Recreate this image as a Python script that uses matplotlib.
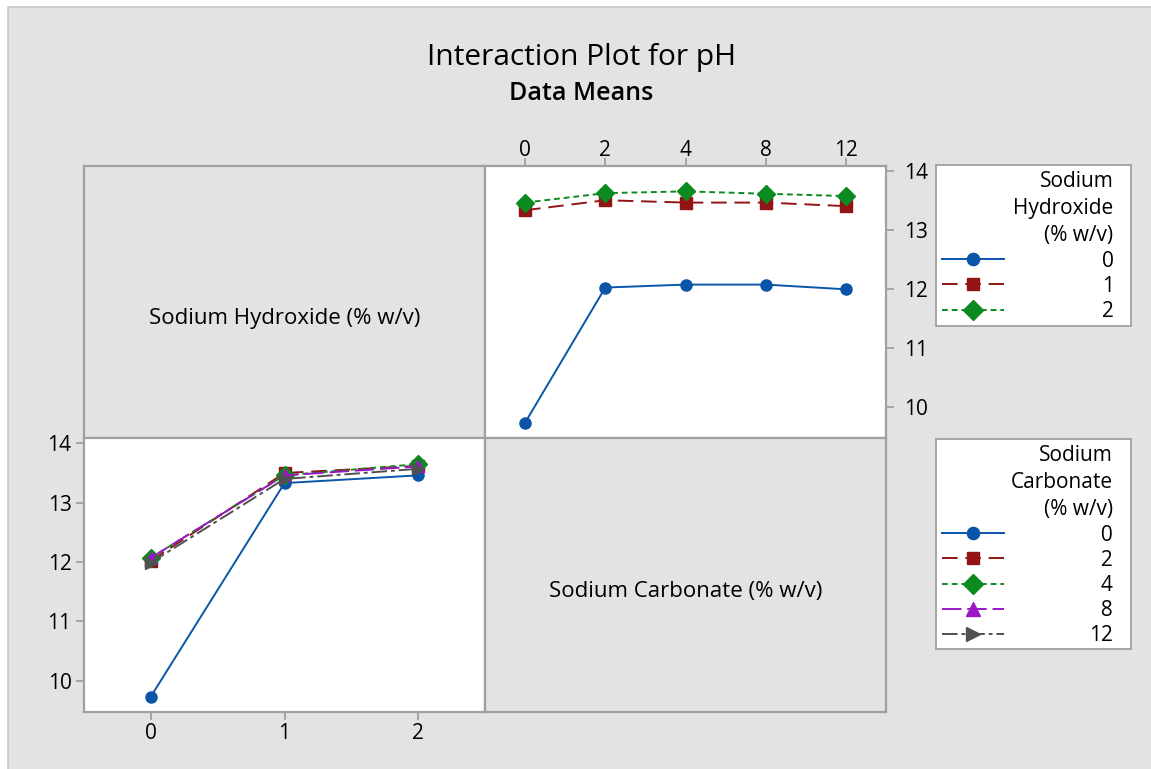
import matplotlib
matplotlib.use("Agg")
import matplotlib.pyplot as plt
from matplotlib.patches import Rectangle
import numpy as np

plt.rcParams['font.family'] = ['Open Sans', 'DejaVu Sans']

# ---- data (cell means of pH) ----
naoh_levels = ["0", "1", "2"]              # Sodium Hydroxide (% w/v)
na2co3_levels = ["0", "2", "4", "8", "12"]  # Sodium Carbonate (% w/v)
# rows: NaOH level, columns: Na2CO3 level
ph_naoh0 = [9.73, 12.02, 12.07, 12.07, 11.99]
ph_naoh1 = [13.33, 13.50, 13.46, 13.46, 13.40]
ph_naoh2 = [13.46, 13.62, 13.65, 13.61, 13.57]
y_ticks = [10, 11, 12, 13, 14]

means = np.array([ph_naoh0, ph_naoh1, ph_naoh2])

W, H = 1151, 769
fig = plt.figure(figsize=(W / 100, H / 100), dpi=100, facecolor='white')
BG = '#e3e3e3'
fig.patches.append(Rectangle((8 / W, -0.5), 1.5, 1.5 - 7 / H, transform=fig.transFigure,
                             facecolor=BG, edgecolor='#c8c8c8', lw=1.2, zorder=-10))

def fx(px):
    return px / W

def fy(py):
    return 1 - py / H

L, M, R = 84, 485, 886
T, MID, B = 166, 438, 712

def make_ax(x0, y0, x1, y1, face):
    ax = fig.add_axes([fx(x0), fy(y1), fx(x1) - fx(x0), fy(y0) - fy(y1)])
    ax.set_facecolor(face)
    for s in ax.spines.values():
        s.set_color('#a0a0a0')
        s.set_linewidth(1.6)
    return ax

ax_tl = make_ax(L, T, M, MID, BG)
ax_tr = make_ax(M, T, R, MID, 'white')
ax_bl = make_ax(L, MID, M, B, 'white')
ax_br = make_ax(M, MID, R, B, BG)

for ax in (ax_tl, ax_br):
    ax.set_xticks([])
    ax.set_yticks([])

LABFS = 16
ax_tl.text(0.5, 0.44, "Sodium Hydroxide (% w/v)", transform=ax_tl.transAxes,
           ha='center', va='center', fontsize=LABFS)
ax_br.text(0.5, 0.44, "Sodium Carbonate (% w/v)", transform=ax_br.transAxes,
           ha='center', va='center', fontsize=LABFS)

naoh_styles = [
    dict(color='#0a55a8', ls='-', marker='o', ms=8),
    dict(color='#921414', ls=(0, (8, 4)), marker='s', ms=8),
    dict(color='#0b8a1f', ls=(0, (3, 2)), marker='D', ms=9),
]
na2co3_styles = [
    dict(color='#0a55a8', ls='-', marker='o', ms=8),
    dict(color='#921414', ls=(0, (8, 4)), marker='s', ms=8),
    dict(color='#0b8a1f', ls=(0, (3, 2)), marker='D', ms=9),
    dict(color='#9b17c5', ls=(0, (10, 3)), marker='^', ms=9),
    dict(color='#505050', ls=(0, (8, 2, 2, 2)), marker='>', ms=9),
]

TICKFS = 15
# top-right: x = Na2CO3, series = NaOH
xc = np.arange(len(na2co3_levels))
h1 = []
for i, lev in enumerate(naoh_levels):
    ln, = ax_tr.plot(xc, means[i], lw=1.4, label=lev, **naoh_styles[i])
    h1.append(ln)
ax_tr.set_xlim(-0.5, len(na2co3_levels) - 0.5)
ax_tr.set_ylim(9.47, 14.08)
ax_tr.set_xticks(xc, na2co3_levels)
ax_tr.set_yticks(y_ticks)
ax_tr.xaxis.tick_top()
ax_tr.yaxis.tick_right()
ax_tr.tick_params(axis='both', colors='#a0a0a0', labelcolor='black',
                  labelsize=TICKFS, length=6, width=1.3)
ax_tr.tick_params(axis='x', pad=-2.5)
ax_tr.tick_params(axis='y', pad=7)

# bottom-left: x = NaOH, series = Na2CO3
xn = np.arange(len(naoh_levels))
h2 = []
for j, lev in enumerate(na2co3_levels):
    ln, = ax_bl.plot(xn, means[:, j], lw=1.4, label=lev, **na2co3_styles[j])
    h2.append(ln)
ax_bl.set_xlim(-0.5, len(naoh_levels) - 0.5)
ax_bl.set_ylim(9.47, 14.09)
ax_bl.set_xticks(xn, naoh_levels)
ax_bl.set_yticks(y_ticks)
ax_bl.tick_params(axis='both', colors='#a0a0a0', labelcolor='black',
                  labelsize=TICKFS, length=6, width=1.3)
ax_bl.tick_params(axis='x', pad=2)
ax_bl.tick_params(axis='y', pad=3)

# titles
fig.text(0.5 + 0.005, fy(58), "Interaction Plot for pH", ha='center', va='center',
         fontsize=21.5)
fig.text(0.5 + 0.005, fy(93), "Data Means", ha='center', va='center',
         fontsize=18, fontweight='semibold')

FS = 15
def legend(handles, labels, title, y0, y1, pad):
    fig.patches.append(Rectangle((fx(936), fy(y1)), fx(1131) - fx(936), fy(y0) - fy(y1),
                                 transform=fig.transFigure, facecolor='white',
                                 edgecolor='#a0a0a0', lw=1.3, zorder=1))
    maxlen = max(len(l) for l in labels)
    labs = ['\u2007' * (maxlen - len(l)) + l for l in labels]
    lg = fig.legend(handles, labs, title=title, loc='upper left',
                    bbox_to_anchor=(fx(936), fy(y0)),
                    borderaxespad=0, fontsize=FS, title_fontsize=FS,
                    alignment='right', handlelength=2.95, handletextpad=pad,
                    labelspacing=0.2, borderpad=0.3, frameon=False,
                    markerscale=1.1)
    lg.set_zorder(5)
    lg.get_title().set_multialignment('right')
    lg.get_title().set_linespacing(1.38)
    return lg

lg1 = legend(h1, naoh_levels, "Sodium\nHydroxide\n(% w/v)", 165, 326, 4.7)
lg2 = legend(h2, na2co3_levels, "Sodium\nCarbonate\n(% w/v)", 439, 649, 4.1)

fig.savefig("out.png", dpi=100, facecolor=fig.get_facecolor())
